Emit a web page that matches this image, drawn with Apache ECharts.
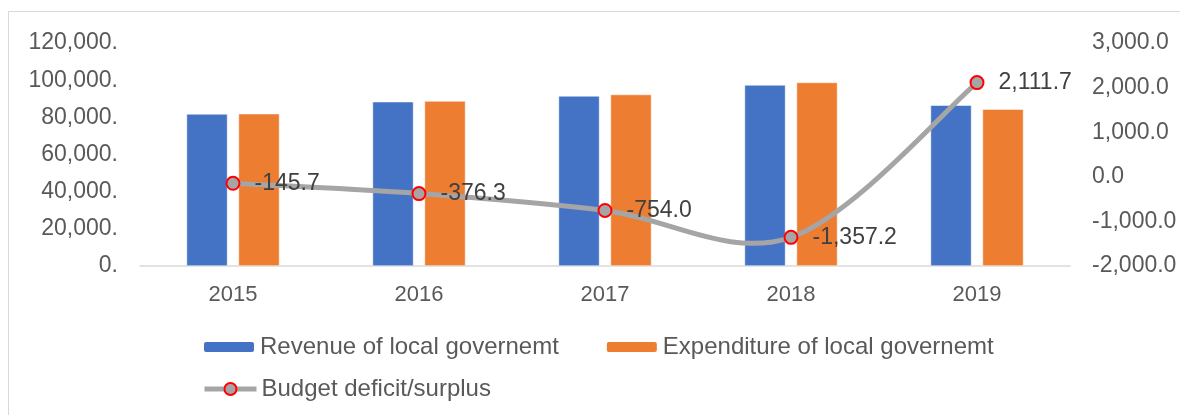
<!DOCTYPE html>
<html>
<head>
<meta charset="utf-8">
<script src="https://cdn.jsdelivr.net/npm/echarts@6/dist/echarts.min.js"></script>
<style>
html,body{margin:0;padding:0;background:#fff;}
#chart{width:1180px;height:415px;}
</style>
</head>
<body>
<div id="chart"></div>
<script>
var years = ['2015', '2016', '2017', '2018', '2019'];
var revenue = [81800, 88400, 91500, 97400, 86500];
var expenditure = [81946, 88776, 92254, 98757, 84388];
var balance = [-145.7, -376.3, -754.0, -1357.2, 2111.7];
var leftTicks = {min: 0, max: 120000, interval: 20000};
var rightTicks = {min: -2000, max: 3000, interval: 1000};

function fmt(v, dec) {
  var neg = v < 0;
  var a = Math.abs(v);
  var s = a.toFixed(dec);
  var parts = s.split('.');
  var ip = parts[0].replace(/\B(?=(\d{3})+(?!\d))/g, ',');
  return (neg ? '-' : '') + ip + '.' + (parts[1] || '');
}

// Catmull-Rom style smoothed segment (like spreadsheet smoothed lines),
// computed from the points positioned by the chart's own axes.
function renderSmoothSegment(params, api) {
  var i = params.dataIndex;
  var n = balance.length;
  if (i >= n - 1) return null;
  var pt = function (k) {
    k = Math.max(0, Math.min(n - 1, k));
    return api.coord([k, balance[k]]);
  };
  var p0 = pt(i - 1), p1 = pt(i), p2 = pt(i + 1), p3 = pt(i + 2);
  var t = 1 / 6;
  return {
    type: 'bezierCurve',
    shape: {
      x1: p1[0], y1: p1[1], x2: p2[0], y2: p2[1],
      cpx1: p1[0] + (p2[0] - p0[0]) * t, cpy1: p1[1] + (p2[1] - p0[1]) * t,
      cpx2: p2[0] - (p3[0] - p1[0]) * t, cpy2: p2[1] - (p3[1] - p1[1]) * t
    },
    style: {stroke: '#A5A5A5', lineWidth: 5, fill: null, lineCap: 'round'}
  };
}

var FONT = '"Liberation Sans", Arial, sans-serif';
var chart = echarts.init(document.getElementById('chart'));
chart.setOption({
  animation: false,
  backgroundColor: '#ffffff',
  graphic: [{
    type: 'rect',
    shape: {x: 8.5, y: 11.5, width: 1300, height: 600},
    style: {fill: 'none', stroke: '#D9D9D9', lineWidth: 1},
    silent: true,
    z: -10
  }],
  grid: {left: 140, right: 110, top: 43, bottom: 149, containLabel: false},
  legend: [{
    data: ['Revenue of local governemt', 'Expenditure of local governemt'],
    left: 202, top: 335, padding: 0,
    itemWidth: 52, itemHeight: 12, itemGap: 46,
    textStyle: {fontSize: 24, color: '#595959', fontFamily: FONT}
  }, {
    data: ['Budget deficit/surplus'],
    left: 202, top: 377, padding: 0,
    itemWidth: 52, itemHeight: 15,
    lineStyle: {width: 5, color: '#A5A5A5', opacity: 1},
    itemStyle: {borderWidth: 2, borderColor: '#FF0000', color: '#A5A5A5'},
    textStyle: {fontSize: 24, color: '#595959', fontFamily: FONT}
  }],
  xAxis: {
    type: 'category',
    data: years,
    axisLine: {lineStyle: {color: '#D9D9D9', width: 1.5}},
    axisTick: {show: false},
    axisLabel: {fontSize: 22, color: '#595959', fontFamily: FONT, margin: 18}
  },
  yAxis: [{
    type: 'value',
    min: leftTicks.min, max: leftTicks.max, interval: leftTicks.interval,
    splitLine: {show: false},
    axisLine: {show: false},
    axisTick: {show: false},
    axisLabel: {fontSize: 23, color: '#595959', fontFamily: FONT, margin: 22,
      formatter: function (v) { return fmt(v, 0); }}
  }, {
    type: 'value',
    min: rightTicks.min, max: rightTicks.max, interval: rightTicks.interval,
    splitLine: {show: false},
    axisLine: {show: false},
    axisTick: {show: false},
    axisLabel: {fontSize: 23, color: '#595959', fontFamily: FONT, margin: 22,
      formatter: function (v) { return fmt(v, 1); }}
  }],
  series: [{
    name: 'Revenue of local governemt',
    type: 'bar',
    data: revenue,
    barWidth: '22%',
    barGap: '27%',
    itemStyle: {color: '#4472C4', borderColor: '#ffffff', borderWidth: 0.5}
  }, {
    name: 'Expenditure of local governemt',
    type: 'bar',
    data: expenditure,
    barWidth: '22%',
    barGap: '27%',
    itemStyle: {color: '#ED7D31', borderColor: '#ffffff', borderWidth: 0.5}
  }, {
    name: 'curve',
    type: 'custom',
    yAxisIndex: 1,
    data: balance.map(function (v, i) { return [i, v]; }),
    renderItem: renderSmoothSegment,
    z: 4,
    silent: true
  }, {
    name: 'Budget deficit/surplus',
    type: 'line',
    yAxisIndex: 1,
    data: balance,
    symbol: 'circle',
    symbolSize: 13,
    z: 5,
    lineStyle: {color: '#A5A5A5', width: 0, opacity: 0},
    itemStyle: {color: '#A5A5A5', borderColor: '#FF0000', borderWidth: 2},
    label: {
      show: true, position: 'right', distance: 14,
      fontSize: 23, color: '#404040', fontFamily: FONT,
      formatter: function (p) { return fmt(p.value, 1); }
    }
  }]
});
</script>
</body>
</html>
